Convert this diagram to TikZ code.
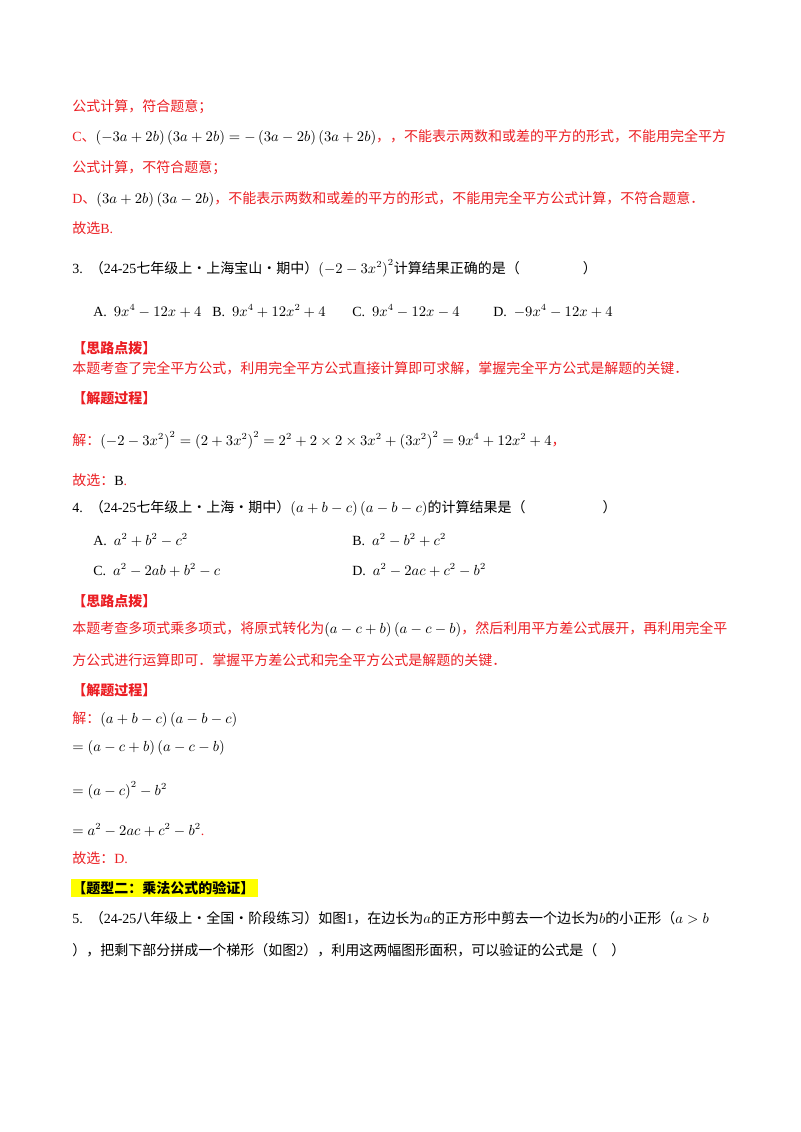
\documentclass[tikz,border=0pt]{standalone}
\usepackage{fontspec}
\setmainfont{Liberation Serif}
\newfontfamily\cjk{Noto Sans CJK SC}
\definecolor{rd}{RGB}{235,30,35}
\definecolor{hl}{RGB}{255,255,0}
\begin{document}
\begin{tikzpicture}[x=0.75pt,y=-0.75pt,
  ln/.style={anchor=west,inner sep=0pt,font=\fontsize{10.5pt}{12pt}\selectfont},
  rl/.style={ln,text=rd},
  hd/.style={ln,text=rd,font=\fontsize{10.5pt}{12pt}\selectfont\cjk\bfseries}]
\useasboundingbox (0,0) rectangle (800,1132);
\node[rl] (l1) at (72,107) {\cjk 公式计算，符合题意；};
\node[rl] (l2) at (72,137) {C{\cjk 、}{\color{black}$\left(-3a+2b\right)\left(3a+2b\right)=-\left(3a-2b\right)\left(3a+2b\right)$}{\cjk ，，不能表示两数和或差的平方的形式，不能用完全平方}};
\node[rl] (l3) at (72,168) {\cjk 公式计算，不符合题意；};
\node[rl] (l4) at (72,199) {D{\cjk 、}{\color{black}$\left(3a+2b\right)\left(3a-2b\right)$}{\cjk ，不能表示两数和或差的平方的形式，不能用完全平方公式计算，不符合题意．}};
\node[rl] (l5) at (72,228) {{\cjk 故选}B.};
\node[ln] (q3) at (72,268) {3.\ \ {\cjk （}24-25{\cjk 七年级上·上海宝山·期中）}$\left(-2-3x^2\right)^2${\cjk 计算结果正确的是（\hspace{4.5em}）}};
\node[ln] (o3a) at (93,311) {A.\ \ $9x^4-12x+4$};
\node[ln] (o3b) at (212,311) {B.\ \ $9x^4+12x^2+4$};
\node[ln] (o3c) at (352,311) {C.\ \ $9x^4-12x-4$};
\node[ln] (o3d) at (493,311) {D.\ \ $-9x^4-12x+4$};
\node[hd] (h1) at (72,348) {【思路点拨】};
\node[rl] (e1) at (72,368) {\cjk 本题考查了完全平方公式，利用完全平方公式直接计算即可求解，掌握完全平方公式是解题的关键．};
\node[hd] (h2) at (72,398) {【解题过程】};
\node[ln] (s1) at (72,440) {{\color{rd}\cjk 解：}$\left(-2-3x^2\right)^2=\left(2+3x^2\right)^2=2^2+2\times2\times3x^2+\left(3x^2\right)^2=9x^4+12x^2+4${\color{rd}\cjk ，}};
\node[ln] (s2) at (72,480) {{\color{rd}\cjk 故选：}B{\color{rd}.}};
\node[ln] (q4) at (72,508) {4.\ \ {\cjk （}24-25{\cjk 七年级上·上海·期中）}$\left(a+b-c\right)\left(a-b-c\right)${\cjk 的计算结果是（\hspace{5.5em}）}};
\node[ln] (o4a) at (93,540) {A.\ \ $a^2+b^2-c^2$};
\node[ln] (o4b) at (352,540) {B.\ \ $a^2-b^2+c^2$};
\node[ln] (o4c) at (93,570) {C.\ \ $a^2-2ab+b^2-c$};
\node[ln] (o4d) at (352,570) {D.\ \ $a^2-2ac+c^2-b^2$};
\node[hd] (h3) at (72,601) {【思路点拨】};
\node[rl] (e2) at (72,629) {{\cjk 本题考查多项式乘多项式，将原式转化为}{\color{black}$\left(a-c+b\right)\left(a-c-b\right)$}{\cjk ，然后利用平方差公式展开，再利用完全平}};
\node[rl] (e3) at (72,660) {\cjk 方公式进行运算即可．掌握平方差公式和完全平方公式是解题的关键．};
\node[hd] (h4) at (72,690) {【解题过程】};
\node[ln] (t1) at (72,719) {{\color{rd}\cjk 解：}$\left(a+b-c\right)\left(a-b-c\right)$};
\node[ln] (t2) at (72,748) {$=\left(a-c+b\right)\left(a-c-b\right)$};
\node[ln] (t3) at (72,790) {$=\left(a-c\right)^2-b^2$};
\node[ln] (t4) at (72,830) {$=a^2-2ac+c^2-b^2${\color{rd}.}};
\node[rl] (t5) at (72,858) {{\cjk 故选：}D.};
\fill[hl] (71,879) rectangle (258,897);
\node[ln,font=\fontsize{10.5pt}{12pt}\selectfont\cjk\bfseries] (h5) at (72,888) {【题型二：乘法公式的验证】};
\node[ln] (q5) at (72,918) {5.\ \ {\cjk （}24-25{\cjk 八年级上·全国·阶段练习）如图}1{\cjk ，在边长为}$a${\cjk 的正方形中剪去一个边长为}$b${\cjk 的小正形（}$a>b$};
\node[ln] (q5b) at (72,950) {{\cjk ），把剩下部分拼成一个梯形（如图}2{\cjk ），利用这两幅图形面积，可以验证的公式是（\hspace{1em}）}};
\end{tikzpicture}
\end{document}
